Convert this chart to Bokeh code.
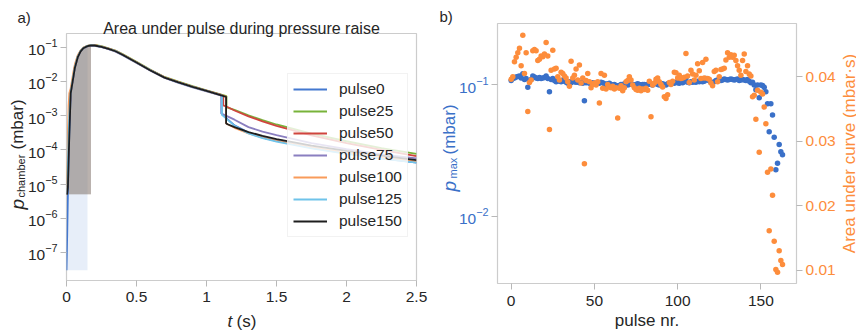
import math
from bokeh.plotting import figure
from bokeh.models import (Range1d, LinearAxis, LinearScale, FixedTicker,
                          Legend, LegendItem, Label)
from bokeh.layouts import row, column
from bokeh.embed import file_html
from bokeh.resources import INLINE

FONT = "Liberation Sans"
TXT = "#262626"

# ---------------- panel a) data ----------------
pulse_names = ["pulse0", "pulse25", "pulse50", "pulse75", "pulse100", "pulse125", "pulse150"]
pulse_colors = ["#4378d0", "#78b33a", "#d0453e", "#8a7fc0", "#f99b5a", "#6fc3ea", "#1e1e1e"]

t_pre = [0, 0.005, 0.01, 0.015, 0.02, 0.03, 0.04, 0.05, 0.06, 0.08, 0.10, 0.12, 0.15,
         0.175, 0.20, 0.25, 0.30, 0.35, 0.40, 0.50, 0.60, 0.70, 0.80, 0.90, 1.00, 1.10]
t_post = [1.15, 1.2, 1.3, 1.4, 1.5, 1.75, 2.0, 2.25, 2.5]

p_pulse0_pre = [3.0e-8, 3.2e-7, 5.0e-6, 5.0e-5, 3.0e-4, 4.6e-3, 8.5e-3, 1.5e-2, 2.6e-2, 5.1e-2, 7.5e-2, 9.4e-2, 0.108,
                0.113, 0.113, 0.102, 0.089, 0.076, 0.060, 0.0356, 0.021, 0.0130, 0.0094, 0.0070, 0.0053, 0.0040]
p_pulse25_pre = [5.0e-6, 1.0e-5, 5.0e-5, 3.0e-4, 1.5e-3, 5.0e-3, 8.9e-3, 1.6e-2, 2.8e-2, 5.4e-2, 7.8e-2, 9.6e-2, 0.110,
                 0.116, 0.117, 0.107, 0.093, 0.080, 0.063, 0.0372, 0.0219, 0.0135, 0.0098, 0.0073, 0.0055, 0.00418]
p_pulse50_pre = [5.0e-6, 8.0e-6, 3.0e-5, 2.0e-4, 1.0e-3, 4.8e-3, 8.5e-3, 1.5e-2, 2.7e-2, 5.2e-2, 7.6e-2, 9.5e-2, 0.109,
                 0.114, 0.114, 0.104, 0.091, 0.078, 0.061, 0.0362, 0.0213, 0.0132, 0.0095, 0.0070, 0.0054, 0.0041]
p_pulse75_pre = [5.0e-6, 7.0e-6, 2.0e-5, 1.5e-4, 8.0e-4, 4.7e-3, 8.2e-3, 1.45e-2, 2.6e-2, 5.1e-2, 7.5e-2, 9.3e-2, 0.106,
                 0.111, 0.110, 0.100, 0.087, 0.074, 0.058, 0.0345, 0.0204, 0.0126, 0.0091, 0.0067, 0.0051, 0.00388]
p_pulse100_pre = [5.0e-6, 3.0e-5, 3.0e-4, 2.0e-3, 4.5e-3, 6.3e-3, 1.12e-2, 2.0e-2, 3.2e-2, 5.8e-2, 7.9e-2, 9.7e-2, 0.110,
                  0.115, 0.115, 0.104, 0.090, 0.077, 0.061, 0.036, 0.0212, 0.0131, 0.0095, 0.0070, 0.0053, 0.0040]
p_pulse125_pre = [5.0e-6, 9.0e-6, 4.0e-5, 2.5e-4, 1.2e-3, 4.9e-3, 8.7e-3, 1.55e-2, 2.7e-2, 5.3e-2, 7.7e-2, 9.5e-2, 0.109,
                  0.114, 0.113, 0.103, 0.090, 0.077, 0.060, 0.0358, 0.0211, 0.0130, 0.0094, 0.0069, 0.0053, 0.0040]
p_pulse150_pre = [5.0e-6, 5.2e-6, 8.0e-6, 5.0e-5, 2.5e-4, 4.5e-3, 7.9e-3, 1.41e-2, 2.51e-2, 5.0e-2, 7.4e-2, 9.3e-2, 0.107,
                  0.112, 0.112, 0.102, 0.089, 0.076, 0.060, 0.0355, 0.0209, 0.0129, 0.0093, 0.0069, 0.00525, 0.00398]

jump_t = [1.107, 1.143, 1.12, 1.107, 1.14, 1.11, 1.14]
jump_before = [0.0039, 0.0037, 0.0038, 0.0037, 0.0036, 0.0039, 0.00355]
jump_after = [1.15e-3, 1.8e-3, 2.0e-3, 1.15e-3, 6.0e-4, 1.05e-3, 6.0e-4]

p_pulse0_post = [7.9e-4, 5.2e-4, 3.2e-4, 2.29e-4, 1.82e-4, 1.15e-4, 7.9e-5, 5.6e-5, 4.2e-5]
p_pulse25_post = [1.70e-3, 1.48e-3, 1.02e-3, 7.4e-4, 5.5e-4, 2.95e-4, 1.78e-4, 1.12e-4, 7.6e-5]
p_pulse50_post = [1.78e-3, 1.41e-3, 9.5e-4, 6.8e-4, 5.0e-4, 2.63e-4, 1.58e-4, 1.0e-4, 6.5e-5]
p_pulse75_post = [9.5e-4, 7.6e-4, 4.6e-4, 3.4e-4, 2.7e-4, 1.58e-4, 1.05e-4, 7.4e-5, 5.6e-5]
p_pulse100_post = [5.6e-4, 4.4e-4, 3.0e-4, 2.29e-4, 1.82e-4, 1.17e-4, 8.3e-5, 6.0e-5, 4.6e-5]
p_pulse125_post = [7.6e-4, 5.0e-4, 3.0e-4, 2.19e-4, 1.74e-4, 1.10e-4, 7.6e-5, 5.5e-5, 4.2e-5]
p_pulse150_post = [5.6e-4, 4.6e-4, 3.3e-4, 2.57e-4, 2.04e-4, 1.32e-4, 9.3e-5, 6.8e-5, 5.0e-5]

fill_end = [0.15, 0.175, 0.175, 0.175, 0.175, 0.175, 0.175]

x_ticks_a = [0.0, 0.5, 1.0, 1.5, 2.0, 2.5]
y_ticks_a = [1e-7, 1e-6, 1e-5, 1e-4, 1e-3, 1e-2, 1e-1]

# ---------------- panel b) data ----------------
p_max = [
    0.108, 0.112, 0.113, 0.115, 0.116, 0.117, 0.113, 0.122, 0.110, 0.112,
    0.096, 0.107, 0.110, 0.117, 0.115, 0.113, 0.112, 0.114, 0.112, 0.113,
    0.114, 0.117, 0.112, 0.089, 0.110, 0.112, 0.108, 0.106, 0.108, 0.107,
    0.106, 0.109, 0.107, 0.105, 0.103, 0.106, 0.104, 0.107, 0.106, 0.105,
    0.106, 0.104, 0.105, 0.103, 0.076, 0.104, 0.105, 0.103, 0.102, 0.104,
    0.103, 0.102, 0.104, 0.103, 0.105, 0.104, 0.102, 0.101, 0.102, 0.103,
    0.101, 0.100, 0.101, 0.099, 0.098, 0.099, 0.101, 0.100, 0.102, 0.101,
    0.100, 0.101, 0.102, 0.101, 0.100, 0.101, 0.102, 0.101, 0.100, 0.101,
    0.101, 0.100, 0.101, 0.102, 0.101, 0.100, 0.102, 0.103, 0.101, 0.100,
    0.101, 0.102, 0.101, 0.100, 0.102, 0.103, 0.102, 0.104, 0.103, 0.105,
    0.104, 0.103, 0.105, 0.104, 0.106, 0.113, 0.105, 0.104, 0.106, 0.105,
    0.106, 0.105, 0.107, 0.106, 0.108, 0.106, 0.107, 0.112, 0.109, 0.108,
    0.105, 0.104, 0.106, 0.108, 0.109, 0.110, 0.108, 0.109, 0.111, 0.110,
    0.109, 0.110, 0.111, 0.110, 0.109, 0.110, 0.111, 0.108, 0.109, 0.110,
    0.109, 0.108, 0.110, 0.107, 0.104, 0.105, 0.100, 0.092, 0.100, 0.080,
    0.100, 0.099, 0.096, 0.089, 0.072, 0.044, 0.072, 0.059, 0.040, 0.0226,
    0.0254, 0.0352, 0.031, 0.0295]
area = [
    0.0396, 0.0400, 0.0423, 0.0430, 0.0437, 0.0444, 0.0417, 0.0464, 0.0405, 0.0437,
    0.0346, 0.0391, 0.0395, 0.0440, 0.0442, 0.0440, 0.0425, 0.0427, 0.0432, 0.0431,
    0.0435, 0.0453, 0.0432, 0.0318, 0.0410, 0.0441, 0.0412, 0.0413, 0.0400, 0.0395,
    0.0407, 0.0405, 0.0401, 0.0398, 0.0392, 0.0385, 0.0424, 0.0398, 0.0402, 0.0412,
    0.0395, 0.0418, 0.0390, 0.0398, 0.0265, 0.0394, 0.0405, 0.0392, 0.0383, 0.0388,
    0.0390, 0.0387, 0.0392, 0.0359, 0.0405, 0.0382, 0.0402, 0.0381, 0.0388, 0.0384,
    0.0383, 0.0385, 0.0381, 0.0383, 0.0336, 0.0382, 0.0386, 0.0378, 0.0383, 0.0392,
    0.0394, 0.0400, 0.0395, 0.0387, 0.0383, 0.0380, 0.0379, 0.0382, 0.0378, 0.0381,
    0.0380, 0.0382, 0.0379, 0.0393, 0.0338, 0.0387, 0.0390, 0.0396, 0.0398, 0.0392,
    0.0388, 0.0384, 0.0369, 0.0366, 0.0372, 0.0391, 0.0388, 0.0393, 0.0407, 0.0406,
    0.0398, 0.0402, 0.0397, 0.0398, 0.0399, 0.0436, 0.0401, 0.0391, 0.0410, 0.0404,
    0.0395, 0.0402, 0.0420, 0.0409, 0.0397, 0.0422, 0.0398, 0.0427, 0.0397, 0.0396,
    0.0390, 0.0386, 0.0408, 0.0410, 0.0392, 0.0400, 0.0411, 0.0412, 0.0413, 0.0426,
    0.0437, 0.0430, 0.0434, 0.0430, 0.0433, 0.0425, 0.0417, 0.0410, 0.0402, 0.0425,
    0.0435, 0.0408, 0.0417, 0.0404, 0.0401, 0.0369, 0.0371, 0.0334, 0.0379, 0.0283,
    0.0376, 0.0373, 0.0353, 0.0327, 0.0252, 0.0161, 0.0257, 0.0216, 0.0145, 0.0101,
    0.0097, 0.0130, 0.0115, 0.0109]
pulse_nr = list(range(len(p_max)))

x_ticks_b = [0, 50, 100, 150]
y_ticks_b = [1e-2, 1e-1]
area_ticks = [0.01, 0.02, 0.03, 0.04]

BLUE = "#3a70c8"
ORANGE = "#fd8d3c"


# ---------------- helpers ----------------
def style_axis(ax, color=TXT):
    ax.axis_line_color = None
    ax.major_tick_line_color = "#b8b8b8"
    ax.major_tick_line_width = 1
    ax.major_tick_out = 6
    ax.major_tick_in = 0
    ax.minor_tick_line_color = None
    ax.major_label_text_font = FONT
    ax.major_label_text_font_size = "15.5px"
    ax.major_label_text_color = color
    ax.major_label_standoff = 3


def no_align(p):
    try:
        p.frame_align = False
    except Exception:
        pass


# ---------------- panel a) ----------------
pa = figure(width=430, height=332, x_range=Range1d(0, 2.5),
            y_range=Range1d(10 ** -7.82, 10 ** -0.6), y_axis_type="log",
            output_backend="svg", toolbar_location=None,
            min_border_left=66, min_border_right=14, min_border_top=33, min_border_bottom=52,
            background_fill_color="white", border_fill_color="white")
no_align(pa)
pa.xgrid.visible = False
pa.ygrid.visible = False
pa.outline_line_color = "#cccccc"
pa.outline_line_width = 1.2
pa.xaxis.ticker = FixedTicker(ticks=x_ticks_a)
pa.yaxis.ticker = FixedTicker(ticks=y_ticks_a)
style_axis(pa.xaxis[0])
style_axis(pa.yaxis[0])
pa.xaxis[0].major_label_standoff = 5

pre_lists = [p_pulse0_pre, p_pulse25_pre, p_pulse50_pre, p_pulse75_pre,
             p_pulse100_pre, p_pulse125_pre, p_pulse150_pre]
post_lists = [p_pulse0_post, p_pulse25_post, p_pulse50_post, p_pulse75_post,
              p_pulse100_post, p_pulse125_post, p_pulse150_post]

for i in range(len(pulse_names)):
    pre = pre_lists[i]
    tx = [t for t in t_pre if t <= fill_end[i] + 1e-9]
    ty = pre[:len(tx)]
    pa.varea(x=tx, y1=[pre[0]] * len(tx), y2=ty, fill_color=pulse_colors[i], fill_alpha=0.13)

line_renderers = []
for i in range(len(pulse_names)):
    xs = t_pre + [jump_t[i], jump_t[i]] + t_post
    ys = pre_lists[i] + [jump_before[i], jump_after[i]] + post_lists[i]
    r = pa.line(xs, ys, line_color=pulse_colors[i], line_width=1.8)
    line_renderers.append(r)

legend = Legend(items=[LegendItem(label=n, renderers=[r]) for n, r in zip(pulse_names, line_renderers)],
                location=(221, 43), orientation="vertical",
                background_fill_color="white", background_fill_alpha=0.8,
                border_line_color="#e6e6e6", border_line_width=1,
                label_text_font=FONT, label_text_font_size="15.5px", label_text_color=TXT,
                glyph_width=34, glyph_height=20, label_height=20, spacing=2,
                padding=5, margin=0, label_standoff=12)
pa.add_layout(legend)

# ---------------- panel b) ----------------
pb = figure(width=426, height=332, x_range=Range1d(-8.2, 171.4),
            y_range=Range1d(10 ** -2.511, 10 ** -0.532), y_axis_type="log",
            output_backend="svg", toolbar_location=None,
            min_border_left=67, min_border_right=60, min_border_top=23, min_border_bottom=49,
            background_fill_color="white", border_fill_color="white")
no_align(pb)
pb.xgrid.visible = False
pb.ygrid.visible = False
pb.outline_line_color = "#cccccc"
pb.outline_line_width = 1.2
pb.extra_y_ranges = {"area": Range1d(0.00794, 0.04824)}
pb.extra_y_scales = {"area": LinearScale()}
ax_r = LinearAxis(y_range_name="area", ticker=FixedTicker(ticks=area_ticks))
pb.add_layout(ax_r, "right")
pb.xaxis.ticker = FixedTicker(ticks=x_ticks_b)
pb.yaxis[0].ticker = FixedTicker(ticks=y_ticks_b)
style_axis(pb.xaxis[0])
style_axis(pb.yaxis[0], BLUE)
style_axis(ax_r, ORANGE)
pb.xaxis[0].major_label_standoff = 6
pb.xaxis[0].axis_label = "pulse nr."
pb.xaxis[0].axis_label_text_font = FONT
pb.xaxis[0].axis_label_text_font_size = "17px"
pb.xaxis[0].axis_label_text_font_style = "normal"
pb.xaxis[0].axis_label_text_color = TXT
pb.xaxis[0].axis_label_standoff = 2

pb.scatter(pulse_nr, p_max, size=5.5, fill_color=BLUE, line_color=None)
pb.scatter(pulse_nr, area, size=5.5, fill_color=ORANGE, line_color=None, y_range_name="area")

# ---------------- text overlay (titles, panel letters, composite axis labels) ----------------
ov = figure(width=856, height=332, x_range=Range1d(0, 856), y_range=Range1d(332, 0),
            x_axis_location=None, y_axis_location=None,
            output_backend="svg", toolbar_location=None,
            min_border=0, min_border_left=0, min_border_right=0, min_border_top=0, min_border_bottom=0)
no_align(ov)
ov.grid.visible = False
ov.outline_line_color = None
ov.background_fill_alpha = 0
ov.border_fill_alpha = 0
ov.margin = (-332, 0, 0, 0)


def txt(x, y, text, size, color=TXT, style="normal", angle=0.0, align="left"):
    ov.add_layout(Label(x=x, y=y, text=text, text_font=FONT, text_font_size=f"{size}px",
                        text_color=color, text_font_style=style, angle=angle,
                        text_align=align, text_baseline="alphabetic"))


V = math.pi / 2
txt(17, 17, "a)", 15)
txt(241, 28, "Area under pulse during pressure raise", 16, align="center")
txt(227, 321, "t", 17, style="italic")
txt(236, 321, "(s)", 17)
txt(16.5, 209, "p", 19, style="italic", angle=V)
txt(20.5, 197, "chamber", 11, angle=V)
txt(16.5, 149, "(mbar)", 17, angle=V)

txt(439, 16, "b)", 15)
txt(448.5, 191, "p", 19, color=BLUE, style="italic", angle=V)
txt(452, 178, "max", 11, color=BLUE, angle=V)
txt(448.5, 154, "(mbar)", 17, color=BLUE, angle=V)
txt(848.5, 153, "Area under curve (mbar\u00b7s)", 17, color=ORANGE, angle=V, align="center")

layout = column(row(pa, pb), ov)
open("out.html", "w").write(file_html(layout, INLINE))
